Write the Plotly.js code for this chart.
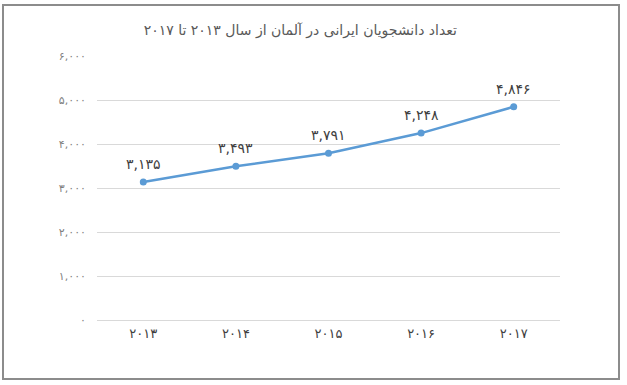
<!DOCTYPE html>
<html>
<head>
<meta charset="utf-8">
<script src="https://cdn.plot.ly/plotly-3.0.1.min.js"></script>
<style>html,body{margin:0;padding:0;background:#fff;}#chart{width:627px;height:385px;}</style>
</head>
<body>
<div id="chart"></div>
<script>
var yearLabels = ['۲۰۱۳', '۲۰۱۴', '۲۰۱۵', '۲۰۱۶', '۲۰۱۷'];
var students = [3135, 3493, 3791, 4248, 4846];
var valueLabels = ['۳,۱۳۵', '۳,۴۹۳', '۳,۷۹۱', '۴,۲۴۸', '۴,۸۴۶'];
var yTickVals = [0, 1000, 2000, 3000, 4000, 5000, 6000];
var yTickText = ['۰', '۱,۰۰۰', '۲,۰۰۰', '۳,۰۰۰', '۴,۰۰۰', '۵,۰۰۰', '۶,۰۰۰'];
var titleText = 'تعداد دانشجویان ایرانی در آلمان از سال ۲۰۱۳ تا ۲۰۱۷';

var font = '"DejaVu Sans", "Noto Sans", sans-serif';

var trace = {
  x: yearLabels,
  y: students,
  type: 'scatter',
  mode: 'lines+markers',
  line: {color: '#5B9BD5', width: 2.5},
  marker: {color: '#5B9BD5', size: 7},
  cliponaxis: false,
  hoverinfo: 'none'
};

var annotations = yearLabels.map(function (yr, i) {
  return {
    x: yr, y: students[i], xref: 'x', yref: 'y',
    text: valueLabels[i], showarrow: false,
    yanchor: 'bottom', yshift: 8,
    font: {family: font, size: 14, color: '#404040'}
  };
});

var L = 97, R = 67, T = 56, B = 65, W = 627, H = 385;
var pw = W - L - R, ph = H - T - B;
function px(x) { return (x - L) / pw; }
function py(y) { return (H - B - y) / ph; }

var layout = {
  width: W, height: H,
  margin: {l: L, r: R, t: T, b: B, pad: 0},
  paper_bgcolor: '#fff',
  plot_bgcolor: '#fff',
  showlegend: false,
  title: {
    text: titleText,
    font: {family: font, size: 14, color: '#595959'},
    xref: 'container', yref: 'container',
    x: 0.479, y: 1 - 30 / H, xanchor: 'center', yanchor: 'middle'
  },
  xaxis: {
    type: 'category',
    range: [-0.5, 4.5],
    tickfont: {family: font, size: 13, color: '#404040'},
    showgrid: false, zeroline: false, showline: false,
    ticks: '', ticklen: 0, ticklabelstandoff: 4, fixedrange: true
  },
  yaxis: {
    range: [0, 6000],
    tickvals: yTickVals,
    ticktext: yTickText,
    tickfont: {family: font, size: 11, color: '#7f7f7f'},
    showgrid: true, gridcolor: '#d9d9d9', gridwidth: 1,
    zeroline: true, zerolinecolor: '#d9d9d9', zerolinewidth: 1,
    showline: false, ticks: '', ticklabelstandoff: 10, fixedrange: true
  },
  annotations: annotations,
  shapes: [{
    type: 'rect', xref: 'paper', yref: 'paper',
    x0: px(3), x1: px(619), y0: py(379), y1: py(5),
    line: {color: '#8c8c8c', width: 2},
    layer: 'above'
  }]
};

Plotly.newPlot('chart', [trace], layout, {displayModeBar: false, staticPlot: true});
</script>
</body>
</html>
